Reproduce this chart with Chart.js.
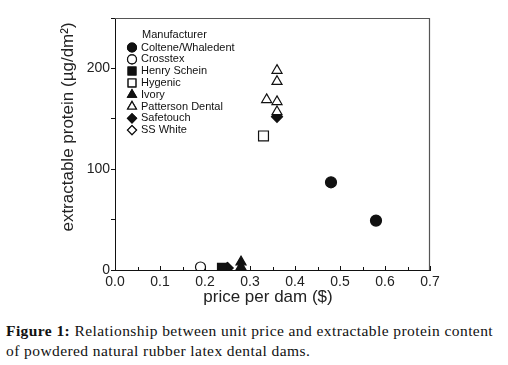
<!DOCTYPE html>
<html>
<head>
<meta charset="utf-8">
<script src="https://cdn.jsdelivr.net/npm/chart.js@4.4.0/dist/chart.umd.min.js"></script>
<style>
  body { margin: 0; background: #fff; width: 508px; height: 365px; overflow: hidden; }
  #wrap { position: relative; width: 508px; height: 310px; }
  #caption {
    position: absolute; left: 6px; top: 321px; width: 502px; white-space: nowrap;
    font-family: "Liberation Serif", "DejaVu Serif", serif; font-size: 15.5px;
    letter-spacing: 0.42px; line-height: 19.5px; color: #111;
  }
</style>
</head>
<body>
<div id="wrap"><canvas id="myScatter" width="508" height="310"></canvas></div>
<div id="caption"><b>Figure 1:</b> Relationship between unit price and extractable protein content<br>of powdered natural rubber latex dental dams.</div>
<script>
// du lieu doc tu hinh
var manufacturers = ['Coltene/Whaledent', 'Crosstex', 'Henry Schein', 'Hygenic', 'Ivory', 'Patterson Dental', 'Safetouch', 'SS White'];
var colteneData = [{ x: 0.48, y: 87 }, { x: 0.58, y: 49 }];
var crosstexData = [{ x: 0.19, y: 3 }];
var henryScheinData = [{ x: 0.238, y: 2 }];
var hygenicData = [{ x: 0.33, y: 133 }];
var ivoryData = [{ x: 0.28, y: 8 }, { x: 0.28, y: 3 }];
var pattersonData = [{ x: 0.36, y: 198 }, { x: 0.36, y: 187 }, { x: 0.337, y: 169 }, { x: 0.36, y: 167 }, { x: 0.36, y: 157 }];
var safetouchData = [{ x: 0.25, y: 2 }, { x: 0.36, y: 152 }];
var ssWhiteData = [{ x: 0.25, y: 2 }];
var xTickLabels = ['0.0', '0.1', '0.2', '0.3', '0.4', '0.5', '0.6', '0.7'];
var yTickLabels = ['0', '100', '200'];

var ink = '#111';
var textColor = '#222';
var frameColor = '#555';

function makeSet(label, data, style, filled, radius) {
    return {
        label: label,
        data: data,
        pointStyle: style,
        pointRadius: radius,
        pointHoverRadius: radius,
        backgroundColor: filled ? ink : '#fff',
        borderColor: ink,
        pointBorderWidth: 1.2,
        showLine: false
    };
}

var datasets = [
    makeSet(manufacturers[0], colteneData, 'circle', true, 5.5),
    makeSet(manufacturers[1], crosstexData, 'circle', false, 5),
    makeSet(manufacturers[2], henryScheinData, 'rect', true, 6.5),
    makeSet(manufacturers[3], hygenicData, 'rect', false, 7),
    makeSet(manufacturers[4], ivoryData, 'triangle', true, 5.8),
    makeSet(manufacturers[5], pattersonData, 'triangle', false, 5.8),
    makeSet(manufacturers[6], safetouchData, 'rectRot', true, 5.5),
    makeSet(manufacturers[7], ssWhiteData, 'rectRot', false, 5.5)
];

// ve khung, vach chia huong vao trong, chu thich va tieu de truc
var extrasPlugin = {
    id: 'extras',
    afterDraw: function (chart) {
        var ctx = chart.ctx;
        var area = chart.chartArea;
        var xs = chart.scales.x;
        ctx.save();
        ctx.strokeStyle = frameColor;
        ctx.lineWidth = 1.2;
        ctx.beginPath();
        ctx.moveTo(area.left, area.top + 0.5);
        ctx.lineTo(area.right - 0.5, area.top + 0.5);
        ctx.lineTo(area.right - 0.5, area.bottom);
        ctx.stroke();

        // vach chia truc x
        ctx.strokeStyle = ink;
        ctx.lineWidth = 1;
        xs.ticks.forEach(function (t) {
            var px = Math.round(xs.getPixelForValue(t.value)) + 0.5;
            var major = Math.round(t.value * 100) % 10 === 0;
            ctx.beginPath();
            ctx.moveTo(px, area.bottom);
            ctx.lineTo(px, area.bottom - (major ? 4 : 3));
            ctx.stroke();
        });

        // tieu de truc
        ctx.fillStyle = textColor;
        ctx.font = '17px "Liberation Sans", Arial, sans-serif';
        ctx.textAlign = 'center';
        ctx.textBaseline = 'middle';
        ctx.fillText('price per dam ($)', 268, 297);
        ctx.save();
        ctx.translate(68, 127);
        ctx.rotate(-Math.PI / 2);
        ctx.fillText('extractable protein (\u00b5g/dm\u00b2)', 0, 0);
        ctx.restore();

        // chu thich
        ctx.textAlign = 'left';
        ctx.font = '11px "Liberation Sans", Arial, sans-serif';
        ctx.fillStyle = ink;
        ctx.fillText('Manufacturer', 142, 35);
        var legendRadius = [4.5, 4.5, 5.5, 5.5, 5, 5, 4.5, 4.5];
        chart.data.datasets.forEach(function (ds, i) {
            var y = 47.5 + i * 11.8;
            Chart.helpers.drawPoint(ctx, {
                pointStyle: ds.pointStyle,
                radius: legendRadius[i],
                rotation: 0,
                borderWidth: 1.2
            }, 132, y);
            ctx.fillStyle = ds.backgroundColor;
            ctx.strokeStyle = ink;
            ctx.lineWidth = 1.2;
            ctx.fill();
            ctx.stroke();
            ctx.fillStyle = ink;
            ctx.fillText(ds.label, 141, y);
        });
        ctx.restore();
    }
};

var ctx = document.getElementById('myScatter').getContext('2d');
var myScatter = new Chart(ctx, {
    type: 'scatter',
    data: { datasets: datasets },
    options: {
        responsive: false,
        animation: false,
        layout: { padding: { top: 18, right: 78, left: 0, bottom: 0 } },
        plugins: {
            legend: { display: false },
            tooltip: { enabled: false }
        },
        scales: {
            x: {
                type: 'linear',
                min: 0,
                max: 0.7,
                afterFit: function (s) { s.height = 40; },
                border: { color: ink, width: 1 },
                grid: { drawOnChartArea: false, drawTicks: false },
                ticks: {
                    stepSize: 0.05,
                    padding: 4,
                    maxRotation: 0,
                    autoSkip: false,
                    color: textColor,
                    font: { family: '"Liberation Sans", Arial, sans-serif', size: 14 },
                    callback: function (v) {
                        var k = Math.round(v * 100);
                        return k % 10 === 0 ? xTickLabels[k / 10] : '';
                    }
                }
            },
            y: {
                type: 'linear',
                min: 0,
                max: 250,
                afterFit: function (s) { s.width = 115; },
                border: { color: ink, width: 1 },
                grid: { drawOnChartArea: false, tickLength: 4, color: ink },
                ticks: {
                    stepSize: 50,
                    padding: 1,
                    autoSkip: false,
                    color: textColor,
                    font: { family: '"Liberation Sans", Arial, sans-serif', size: 14 },
                    callback: function (v) {
                        return v % 100 === 0 ? yTickLabels[v / 100] : '';
                    }
                }
            }
        }
    },
    plugins: [extrasPlugin]
});
</script>
</body>
</html>
